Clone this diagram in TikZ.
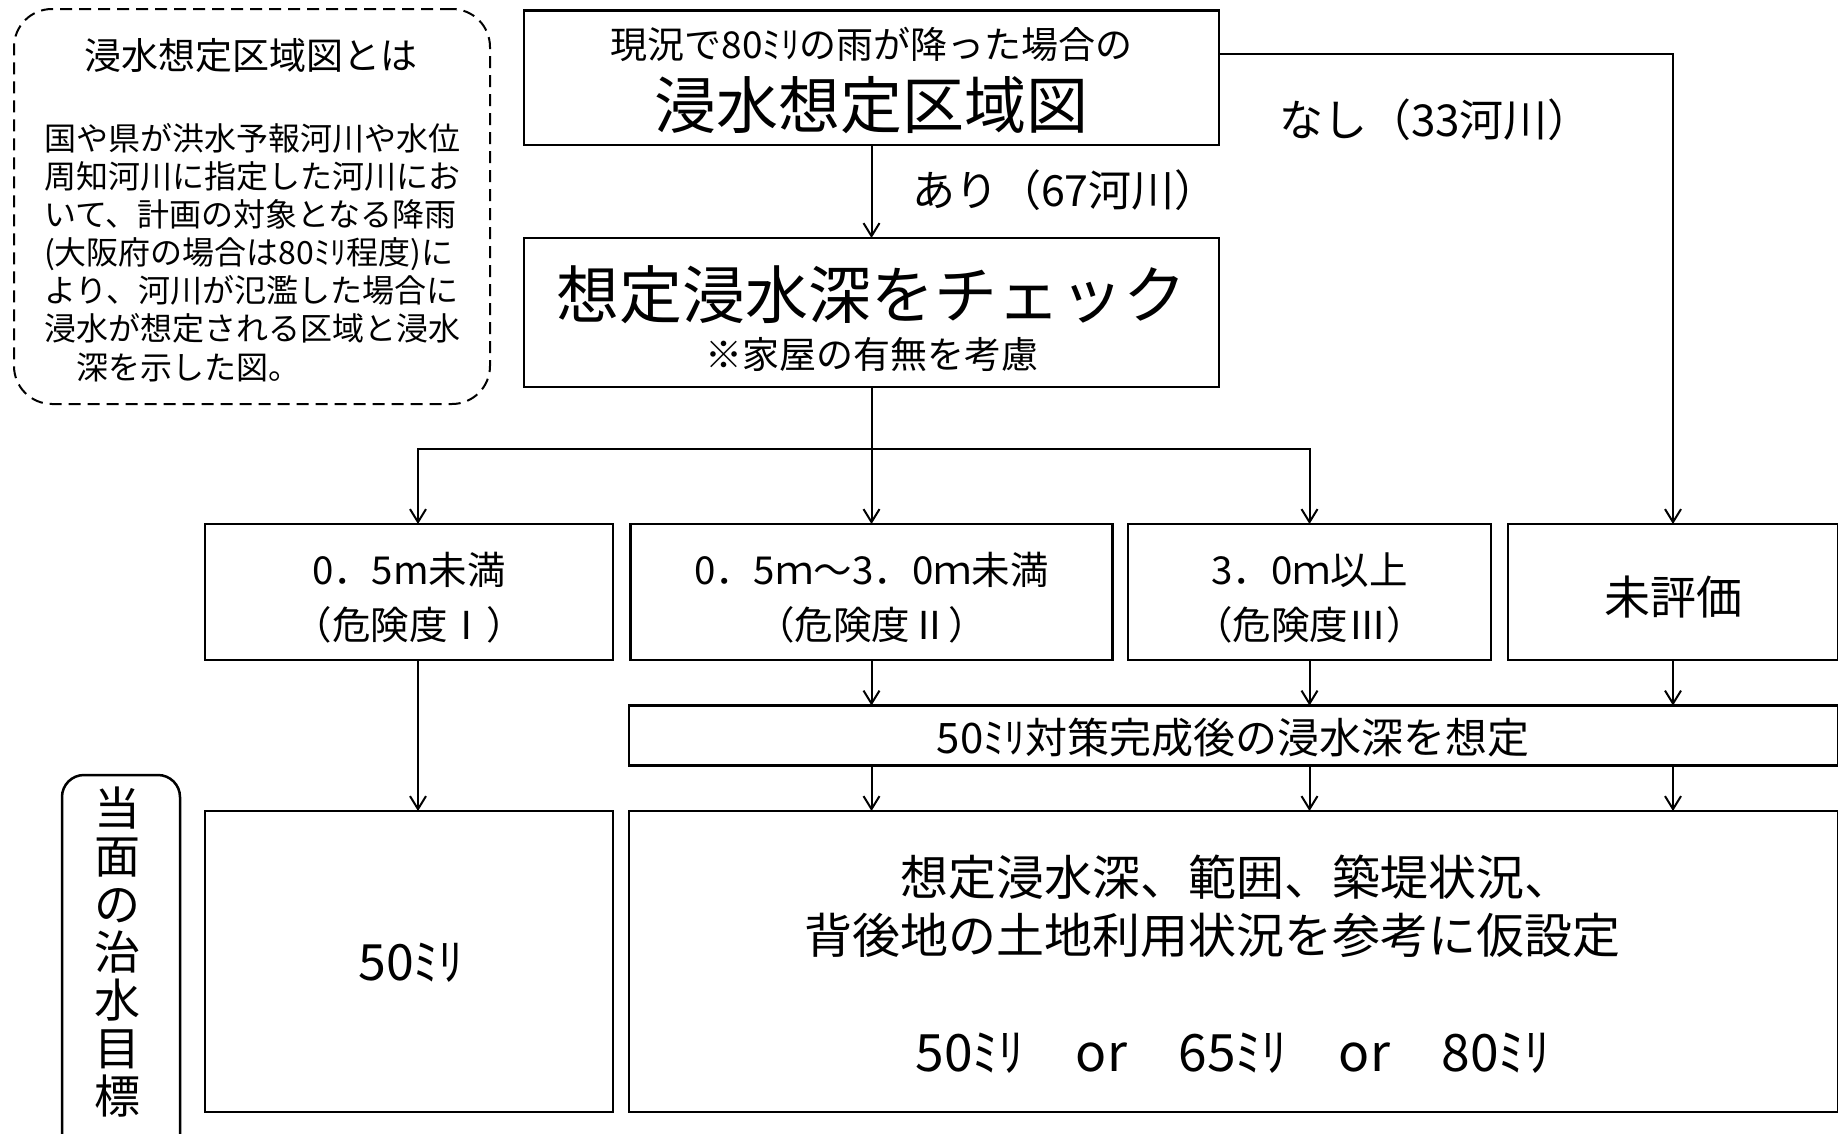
\documentclass[tikz,border=0pt]{standalone}
\usepackage{fontspec}
\setmainfont{Noto Sans CJK JP}
\usetikzlibrary{arrows.meta}
\begin{document}
\begin{tikzpicture}[x=1pt,y=-1pt,
  boxst/.style={draw, line width=2.5pt, inner sep=0pt, outer sep=0pt},
  txt/.style={inner sep=0pt, outer sep=0pt, font=\fontsize{#1}{#1}\selectfont},
  conn/.style={line width=2pt},
  arr/.style={line width=2pt, -{Straight Barb[length=13pt,width=16pt,line width=2pt]}}]
\useasboundingbox (0,0) rectangle (1838,1133);
\clip (0,0) rectangle (1838,1133);
\fill[white] (0,0) rectangle (1838,1133);

% explanatory note
\node[draw, line width=2pt, dash pattern=on 12pt off 7pt, rounded corners=38pt,
      inner sep=0pt, minimum width=476pt, minimum height=395pt] (note) at (252,206.5) {};
\node[txt=37] (notetitle) at (251,56) {浸水想定区域図とは};
\node[inner sep=0pt, align=left, font=\fontsize{32}{38.1}\selectfont] (notebody) at (252,252.5)
  {国や県が洪水予報河川や水位\\周知河川に指定した河川にお\\いて、計画の対象となる降雨\\(大阪府の場合は80ﾐﾘ程度)に\\より、河川が氾濫した場合に\\浸水が想定される区域と浸水\\　深を示した図。};

% top box
\node[boxst, minimum width=695pt, minimum height=134.5pt] (top) at (871.5,77.75) {};
\node[txt=37] (topsub) at (871.5,44.5) {現況で80ﾐﾘの雨が降った場合の};
\node[txt=62] (toptitle) at (871.5,105.5) {浸水想定区域図};

% check box
\node[boxst, minimum width=695pt, minimum height=149pt] (chk) at (871.5,312.5) {};
\node[txt=63] (chktitle) at (871.5,295) {想定浸水深をチェック};
\node[txt=37] (chknote) at (871.5,354) {※家屋の有無を考慮};

% labels
\node[txt=43, anchor=west] (ari) at (912,190) {あり（67河川）};
\node[txt=44, anchor=west] (nashi) at (1279,120) {なし（33河川）};

% row boxes
\node[boxst, minimum width=408pt, minimum height=136pt] (rowA) at (409,592) {};
\node[boxst, minimum width=482pt, minimum height=136pt] (rowB) at (871.5,592) {};
\node[boxst, minimum width=363pt, minimum height=136pt] (rowC) at (1309.5,592) {};
\node[boxst, minimum width=330pt, minimum height=136pt] (rowD) at (1673,592) {};
\node[inner sep=0pt, align=center, font=\fontsize{38.5}{55}\selectfont] (rowAt) at (409,597.5) {0．5m未満\\（危険度Ⅰ）};
\node[inner sep=0pt, align=center, font=\fontsize{38.5}{55}\selectfont] (rowBt) at (871.5,597.5) {0．5ｍ～3．0ｍ未満\\（危険度Ⅱ）};
\node[inner sep=0pt, align=center, font=\fontsize{38.5}{55}\selectfont] (rowCt) at (1309.5,597.5) {3．0ｍ以上\\（危険度Ⅲ）};
\node[txt=46] (rowDt) at (1673,597) {未評価};

% bar
\node[boxst, minimum width=1209pt, minimum height=60pt] (bar) at (1233.5,735.5) {};
\node[txt=42] (bart) at (1233,738) {50ﾐﾘ対策完成後の浸水深を想定};

% bottom boxes
\node[boxst, minimum width=408pt, minimum height=301pt] (botE) at (409,961.5) {};
\node[boxst, minimum width=1209pt, minimum height=301pt] (botF) at (1233.5,961.5) {};
\node[txt=50] (botEt) at (411,963) {50ﾐﾘ};
\node[txt=48, anchor=west] (botF1) at (900,877) {想定浸水深、範囲、築堤状況、};
\node[txt=48, anchor=west] (botF2) at (804,935) {背後地の土地利用状況を参考に仮設定};
\node[txt=51.5] (botF3) at (1233,1053) {50ﾐﾘ　or　65ﾐﾘ　or　80ﾐﾘ};

% goal label
\node[boxst, rounded corners=22pt, minimum width=118pt, minimum height=405pt] (goalbox) at (121,977.5) {};
\node[inner sep=0pt, align=center, font=\fontsize{46}{48}\selectfont] (goal) at (117,952.5) {当\\面\\の\\治\\水\\目\\標};

% connectors
\coordinate (br) at (871.5,449);
\coordinate (nr) at (1673,54);
\coordinate (aX) at (418,0);
\draw[arr] (top.south) -- (chk.north);
\draw[conn] (chk.south) -- (br);
\draw[arr] (br) -- (rowB.north);
\draw[arr] (br) -| (aX |- rowA.north);
\draw[arr] (br) -| (rowC.north);
\draw[arr] (top.east |- nr) -- (nr) -- (rowD.north);
\draw[arr] (aX |- rowA.south) -- (aX |- botE.north);
\draw[arr] (rowB.south) -- (rowB.south |- bar.north);
\draw[arr] (rowC.south) -- (rowC.south |- bar.north);
\draw[arr] (rowD.south) -- (rowD.south |- bar.north);
\draw[arr] (rowB.south |- bar.south) -- (rowB.south |- botF.north);
\draw[arr] (rowC.south |- bar.south) -- (rowC.south |- botF.north);
\draw[arr] (rowD.south |- bar.south) -- (rowD.south |- botF.north);
\end{tikzpicture}
\end{document}
